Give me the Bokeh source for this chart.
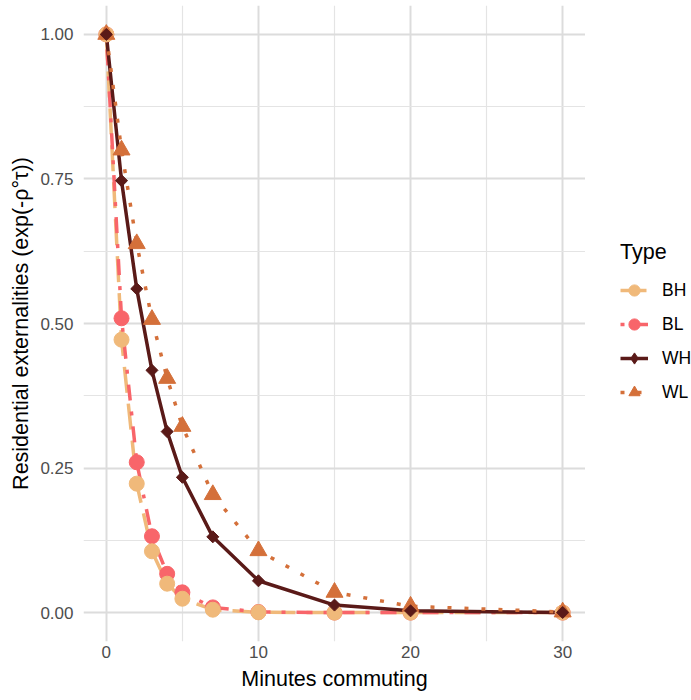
import math
from bokeh.plotting import figure
from bokeh.layouts import row
from bokeh.models import FixedTicker, PrintfTickFormatter, Legend, LegendItem, Range1d
from bokeh.embed import file_html
from bokeh.resources import INLINE

minutes = [0, 1, 2, 3, 4, 5, 7, 10, 15, 20, 30]
bh = [1.0, 0.472, 0.223, 0.106, 0.050, 0.024, 0.005, 0.0005, 0.0, 0.0, 0.0]
bl = [1.0, 0.509, 0.260, 0.132, 0.067, 0.035, 0.009, 0.001, 0.0, 0.0, 0.0]
wh = [1.0, 0.747, 0.560, 0.419, 0.313, 0.234, 0.131, 0.055, 0.013, 0.003, 0.0002]
wl = [1.0, 0.800, 0.638, 0.507, 0.405, 0.322, 0.204, 0.107, 0.035, 0.011, 0.001]
types = ["BH", "BL", "WH", "WL"]
x_ticks = [0, 10, 20, 30]
x_minor = [5, 15, 25]
y_ticks = [0, 0.25, 0.5, 0.75, 1.0]
y_minor = [0.125, 0.375, 0.625, 0.875]

FONT = "Liberation Sans"

p = figure(width=585, height=700, output_backend="svg", toolbar_location=None,
           x_range=Range1d(-1.5, 31.5), y_range=Range1d(-0.05, 1.05),
           min_border_left=83, min_border_right=0, min_border_top=5, min_border_bottom=59,
           x_axis_label="Minutes commuting",
           y_axis_label="Residential externalities (exp(-ρ°τ))")
p.outline_line_color = None
p.background_fill_color = "white"
p.border_fill_color = "white"

p.xaxis.ticker = FixedTicker(ticks=x_ticks, minor_ticks=x_minor)
p.yaxis.ticker = FixedTicker(ticks=y_ticks, minor_ticks=y_minor)
p.yaxis.formatter = PrintfTickFormatter(format="%.2f")
for ax in (p.xaxis, p.yaxis):
    ax.axis_line_color = None
    ax.major_tick_line_color = None
    ax.minor_tick_line_color = None
    ax.major_tick_out = 0
    ax.major_tick_in = 0
    ax.minor_tick_out = 0
    ax.minor_tick_in = 0
    ax.major_label_text_font = FONT
    ax.major_label_text_font_size = "17px"
    ax.major_label_text_color = "#4D4D4D"
    ax.axis_label_text_font = FONT
    ax.axis_label_text_font_size = "21.5px"
    ax.axis_label_text_font_style = "normal"
    ax.axis_label_text_color = "black"
p.xaxis.major_label_standoff = 4
p.xaxis.axis_label_standoff = 6
p.yaxis.major_label_standoff = 10
p.yaxis.axis_label_standoff = 4

for g in (p.xgrid, p.ygrid):
    g.grid_line_color = "#DCDCDC"
    g.grid_line_width = 2
    g.minor_grid_line_color = "#E4E4E4"
    g.minor_grid_line_width = 1.2

colors = {"BH": "#F0B97A", "BL": "#F8656A", "WH": "#5A1A18", "WL": "#D4703A"}
dashes = {"BH": "26 11", "BL": "4 11 16 11", "WH": "solid", "WL": "4 13"}
markers = {"BH": "circle", "BL": "circle", "WH": "diamond", "WL": "triangle"}
series = {"BH": bh, "BL": bl, "WH": wh, "WL": wl}

for t in ["BH", "BL", "WH", "WL"]:
    p.line(minutes, series[t], line_color=colors[t], line_width=3.5, line_dash=dashes[t])

p.scatter(minutes, bl, marker="circle", size=15, fill_color=colors["BL"], line_color=colors["BL"])
p.scatter(minutes, bh, marker="circle", size=15, fill_color=colors["BH"], line_color=colors["BH"])
p.scatter(minutes, wl, marker="triangle", size=17, fill_color=colors["WL"], line_color=colors["WL"])
p.scatter(minutes, wh, marker="square", angle=math.pi / 4, size=8.5,
          fill_color=colors["WH"], line_color=colors["WH"])

# legend panel: same series, drawn outside its visible range, only feeding the legend
q = figure(width=106, height=700, output_backend="svg", toolbar_location=None,
           x_range=Range1d(100, 101), y_range=Range1d(100, 101),
           x_axis_location=None, y_axis_location=None, min_border=0)
q.outline_line_color = None
q.grid.visible = False
q.border_fill_color = "white"
q.background_fill_color = "white"
items = []
for t in types:
    ln = q.line(minutes, series[t], line_color=colors[t], line_width=3.5, line_dash=dashes[t])
    sc = q.scatter(minutes, series[t], marker=markers[t], size=12,
                   fill_color=colors[t], line_color=colors[t])
    items.append(LegendItem(label=t, renderers=[ln, sc]))
legend = Legend(items=items, location=(35, 232), title="Type",
                title_text_font=FONT, title_text_font_size="21.5px",
                title_text_font_style="normal", title_text_color="black", title_standoff=8,
                label_text_font=FONT, label_text_font_size="17.5px", label_text_color="black",
                glyph_width=28, glyph_height=34, label_standoff=14, spacing=0,
                padding=0, margin=0, border_line_color=None,
                background_fill_alpha=0)
q.add_layout(legend, "center")

layout = row(p, q, spacing=0)
open("out.html", "w").write(file_html(layout, INLINE))
